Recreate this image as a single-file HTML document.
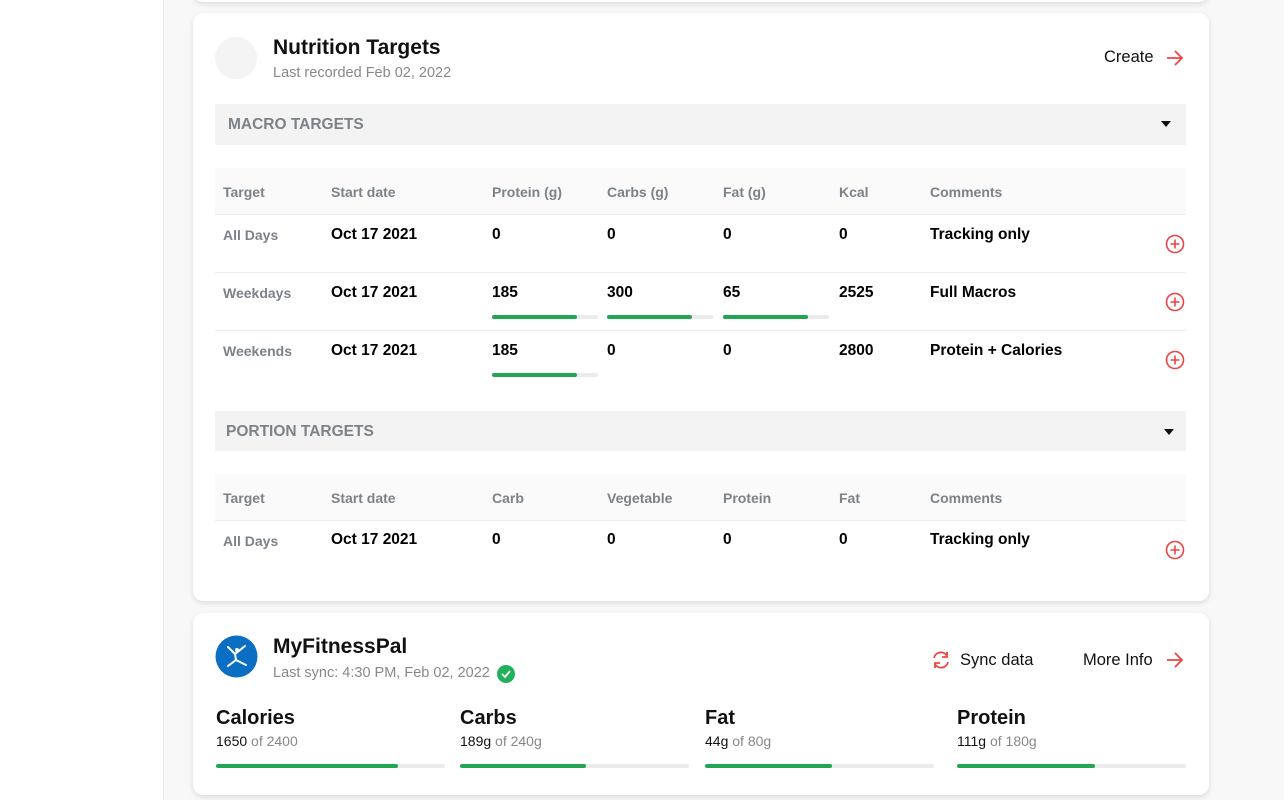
<!DOCTYPE html>
<html><head><meta charset="utf-8"><style>
*{margin:0;padding:0;box-sizing:border-box}
body{width:1284px;height:800px;background:#f8f8f8;font-family:"Liberation Sans",sans-serif;position:relative;overflow:hidden;color:#111}
.a{position:absolute;white-space:nowrap}
.card{position:absolute;left:193px;width:1016px;background:#fff;border-radius:10px;box-shadow:0 2px 6px rgba(0,0,0,0.12)}
.b{font-weight:bold}
.h{font-size:14px;color:#7b8289;font-weight:bold}
.v{font-size:15.5px;font-weight:bold;color:#000}
.lbl{font-size:14px;color:#7b8289;font-weight:bold}
.bar{position:absolute;height:4px;background:#ebebeb;border-radius:2px}
.bar i{display:block;height:4px;background:#22a654;border-radius:2px}
.line{position:absolute;left:215px;width:971px;height:1px;background:#eeeeee}
</style></head><body>
<div class="a" style="left:0;top:0;width:164px;height:800px;background:#fff;border-right:1px solid #ececec"></div>
<div class="card" style="top:-20px;height:22px"></div>
<div class="card" style="top:13px;height:588px"></div>
<div class="card" style="top:613px;height:182px"></div>

<div class="a" style="left:215px;top:37px;width:42px;height:42px;border-radius:50%;background:#f4f4f4"></div>
<div class="a b" style="left:273px;top:36px;font-size:21px">Nutrition Targets</div>
<div class="a" style="left:273px;top:65px;font-size:14.5px;color:#888">Last recorded Feb 02, 2022</div>
<div class="a" style="left:1104px;top:48px;font-size:16.5px">Create</div>
<svg class="a" style="left:1165px;top:49px" width="20" height="18"><path d="M2 9H17M10 2L17 9L10 16" stroke="#ee4444" stroke-width="1.8" fill="none"/></svg>

<div class="a" style="left:215px;top:104px;width:971px;height:41px;background:#f3f3f3"></div>
<div class="a b" style="left:228px;top:116px;font-size:15.5px;color:#7b8289">MACRO TARGETS</div>
<div class="a" style="left:1161px;top:121px;border-left:5px solid transparent;border-right:5px solid transparent;border-top:6px solid #111"></div>

<div class="a" style="left:215px;top:168px;width:971px;height:46px;background:#fafafa"></div>
<div class="line" style="top:214px"></div><div class="line" style="top:272px"></div><div class="line" style="top:330px"></div>
<div class="a h" style="left:223px;top:184px">Target</div>
<div class="a h" style="left:331px;top:184px">Start date</div>
<div class="a h" style="left:492px;top:184px">Protein (g)</div>
<div class="a h" style="left:607px;top:184px">Carbs (g)</div>
<div class="a h" style="left:723px;top:184px">Fat (g)</div>
<div class="a h" style="left:839px;top:184px">Kcal</div>
<div class="a h" style="left:930px;top:184px">Comments</div>

<div class="a lbl" style="left:223px;top:227px">All Days</div>
<div class="a v" style="left:331px;top:226px">Oct 17 2021</div>
<div class="a v" style="left:492px;top:226px">0</div><div class="a v" style="left:607px;top:226px">0</div><div class="a v" style="left:723px;top:226px">0</div><div class="a v" style="left:839px;top:226px">0</div>
<div class="a v" style="left:930px;top:226px">Tracking only</div>

<div class="a lbl" style="left:223px;top:285px">Weekdays</div>
<div class="a v" style="left:331px;top:284px">Oct 17 2021</div>
<div class="a v" style="left:492px;top:284px">185</div><div class="a v" style="left:607px;top:284px">300</div><div class="a v" style="left:723px;top:284px">65</div><div class="a v" style="left:839px;top:284px">2525</div>
<div class="a v" style="left:930px;top:284px">Full Macros</div>
<div class="bar" style="left:492px;top:315px;width:106px"><i style="width:85px"></i></div>
<div class="bar" style="left:607px;top:315px;width:106px"><i style="width:85px"></i></div>
<div class="bar" style="left:723px;top:315px;width:106px"><i style="width:85px"></i></div>

<div class="a lbl" style="left:223px;top:343px">Weekends</div>
<div class="a v" style="left:331px;top:342px">Oct 17 2021</div>
<div class="a v" style="left:492px;top:342px">185</div><div class="a v" style="left:607px;top:342px">0</div><div class="a v" style="left:723px;top:342px">0</div><div class="a v" style="left:839px;top:342px">2800</div>
<div class="a v" style="left:930px;top:342px">Protein + Calories</div>
<div class="bar" style="left:492px;top:373px;width:106px"><i style="width:85px"></i></div>

<div class="a" style="left:215px;top:411px;width:971px;height:40px;background:#f3f3f3"></div>
<div class="a b" style="left:226px;top:423px;font-size:15.5px;color:#7b8289">PORTION TARGETS</div>
<div class="a" style="left:1164px;top:429px;border-left:5px solid transparent;border-right:5px solid transparent;border-top:6px solid #111"></div>

<div class="a" style="left:215px;top:474px;width:971px;height:46px;background:#fafafa"></div>
<div class="line" style="top:520px"></div>
<div class="a h" style="left:223px;top:490px">Target</div>
<div class="a h" style="left:331px;top:490px">Start date</div>
<div class="a h" style="left:492px;top:490px">Carb</div>
<div class="a h" style="left:607px;top:490px">Vegetable</div>
<div class="a h" style="left:723px;top:490px">Protein</div>
<div class="a h" style="left:839px;top:490px">Fat</div>
<div class="a h" style="left:930px;top:490px">Comments</div>
<div class="a lbl" style="left:223px;top:533px">All Days</div>
<div class="a v" style="left:331px;top:531px">Oct 17 2021</div>
<div class="a v" style="left:492px;top:531px">0</div><div class="a v" style="left:607px;top:531px">0</div><div class="a v" style="left:723px;top:531px">0</div><div class="a v" style="left:839px;top:531px">0</div>
<div class="a v" style="left:930px;top:531px">Tracking only</div>

<svg class="a" style="left:1164px;top:233px" width="22" height="22"><circle cx="11" cy="11" r="8.5" stroke="#ee4444" stroke-width="1.6" fill="none"/><path d="M11 6.5V15.5M6.5 11H15.5" stroke="#ee4444" stroke-width="1.6"/></svg>
<svg class="a" style="left:1164px;top:291px" width="22" height="22"><circle cx="11" cy="11" r="8.5" stroke="#ee4444" stroke-width="1.6" fill="none"/><path d="M11 6.5V15.5M6.5 11H15.5" stroke="#ee4444" stroke-width="1.6"/></svg>
<svg class="a" style="left:1164px;top:349px" width="22" height="22"><circle cx="11" cy="11" r="8.5" stroke="#ee4444" stroke-width="1.6" fill="none"/><path d="M11 6.5V15.5M6.5 11H15.5" stroke="#ee4444" stroke-width="1.6"/></svg>
<svg class="a" style="left:1164px;top:539px" width="22" height="22"><circle cx="11" cy="11" r="8.5" stroke="#ee4444" stroke-width="1.6" fill="none"/><path d="M11 6.5V15.5M6.5 11H15.5" stroke="#ee4444" stroke-width="1.6"/></svg>

<svg class="a" style="left:215px;top:635px" width="43" height="43"><circle cx="21.5" cy="21.5" r="21" fill="#0a6fc2"/><path d="M13 12L20 19L30 11M20 19L21 25L13 31M21 25L31 30" stroke="#fff" stroke-width="2" fill="none" stroke-linecap="round"/><circle cx="22" cy="15" r="2" fill="#fff"/></svg>
<div class="a b" style="left:273px;top:635px;font-size:21px">MyFitnessPal</div>
<div class="a" style="left:273px;top:665px;font-size:14.5px;color:#888">Last sync: 4:30 PM, Feb 02, 2022</div>
<svg class="a" style="left:497px;top:665px" width="18" height="18"><circle cx="9" cy="9" r="9" fill="#22b05a"/><path d="M5 9L8 12L13 6" stroke="#fff" stroke-width="1.8" fill="none"/></svg>
<svg class="a" style="left:930px;top:650px" width="22" height="20"><path d="M4 8A7 7 0 0 1 17 6M18 12A7 7 0 0 1 5 14" stroke="#ee4444" stroke-width="1.8" fill="none"/><path d="M17 2V7H12M5 18V13H10" stroke="#ee4444" stroke-width="1.8" fill="none"/></svg>
<div class="a" style="left:960px;top:651px;font-size:16.5px">Sync data</div>
<div class="a" style="left:1083px;top:651px;font-size:16.5px">More Info</div>
<svg class="a" style="left:1165px;top:651px" width="20" height="18"><path d="M2 9H17M10 2L17 9L10 16" stroke="#ee4444" stroke-width="1.8" fill="none"/></svg>

<div class="a b" style="left:216px;top:707px;font-size:20px">Calories</div>
<div class="a" style="left:216px;top:733px;font-size:14px">1650 <span style="color:#888">of 2400</span></div>
<div class="bar" style="left:216px;top:764px;width:229px"><i style="width:182px"></i></div>
<div class="a b" style="left:460px;top:707px;font-size:20px">Carbs</div>
<div class="a" style="left:460px;top:733px;font-size:14px">189g <span style="color:#888">of 240g</span></div>
<div class="bar" style="left:460px;top:764px;width:229px"><i style="width:126px"></i></div>
<div class="a b" style="left:705px;top:707px;font-size:20px">Fat</div>
<div class="a" style="left:705px;top:733px;font-size:14px">44g <span style="color:#888">of 80g</span></div>
<div class="bar" style="left:705px;top:764px;width:229px"><i style="width:127px"></i></div>
<div class="a b" style="left:957px;top:707px;font-size:20px">Protein</div>
<div class="a" style="left:957px;top:733px;font-size:14px">111g <span style="color:#888">of 180g</span></div>
<div class="bar" style="left:957px;top:764px;width:229px"><i style="width:138px"></i></div>
</body></html>
